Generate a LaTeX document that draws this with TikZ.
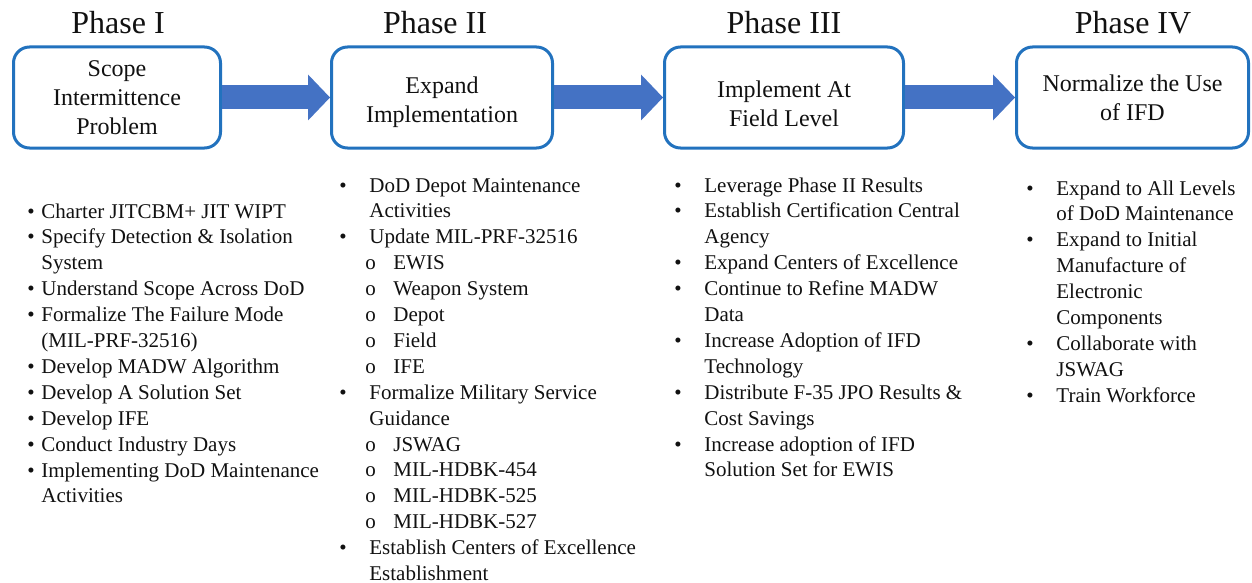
\documentclass[tikz,border=0pt]{standalone}
\usepackage{fontspec}
\setmainfont{Liberation Serif}
\usetikzlibrary{arrows.meta}
\definecolor{Ink}{HTML}{111111}
\definecolor{BoxBlue}{HTML}{2272BE}
\definecolor{ArrowBlue}{HTML}{4472C4}
\newlength\bulgap
\setlength\bulgap{15pt}
\newcommand{\itm}{\makebox[\bulgap][l]{\textbullet}}
\newcommand{\cnt}{\hspace*{\bulgap}}
\newcommand{\subitm}{\hspace*{13pt}\makebox[14pt][l]{o}}
\newcommand{\toppad}[1]{\rule{0pt}{#1}}
\tikzset{
  phasebox/.style={draw=BoxBlue,line width=1.5pt,rounded corners=8pt,fill=white,text=Ink,align=center,minimum height=50.5pt,inner sep=2pt,font=\fontsize{12}{14.5}\selectfont},
  phasetitle/.style={text=Ink,inner sep=0pt,font=\fontsize{16}{18}\selectfont},
  steplist/.style={text=Ink,anchor=base west,inner sep=0pt,font=\fontsize{10.5}{12.95}\selectfont},
  flowarrow/.style={draw=ArrowBlue,line width=12pt,-{Triangle[length=11pt,width=23pt,line width=0pt]}}
}

\begin{document}
\begin{tikzpicture}[x=0.5pt,y=-0.5pt]
\useasboundingbox (0,0) rectangle (1252,583);
% phase titles
\node[phasetitle] (t1) at (118,23) {Phase I};
\node[phasetitle] (t2) at (435,23) {Phase II};
\node[phasetitle] (t3) at (784,23) {Phase III};
\node[phasetitle] (t4) at (1133,23) {Phase IV};
% phase boxes
\node[phasebox,minimum width=103.5pt] (p1) at (117,97.5) {Scope\\Intermittence\\Problem};
\node[phasebox,minimum width=110.5pt] (p2) at (442,97.5) {\toppad{12.8pt}Expand\\Implementation};
\node[phasebox,minimum width=119.5pt] (p3) at (784,97.5) {\toppad{14.3pt}Implement At\\Field Level};
\node[phasebox,minimum width=116pt] (p4) at (1132.5,97.5) {Normalize the Use\\of IFD};
\foreach \a/\b in {p1/p2,p2/p3,p3/p4}
  \draw[flowarrow] (\a.east) -- (\b.west);
% task lists
\node[steplist] (l1) at (27,218) {\setlength\bulgap{7pt}\begin{tabular}[t]{@{}l@{}}
  \itm Charter JITCBM+ JIT WIPT\\
  \itm Specify Detection \& Isolation\\
  \cnt System\\
  \itm Understand Scope Across DoD\\
  \itm Formalize The Failure Mode\\
  \cnt (MIL-PRF-32516)\\
  \itm Develop MADW Algorithm\\
  \itm Develop A Solution Set\\
  \itm Develop IFE\\
  \itm Conduct Industry Days\\
  \itm Implementing DoD Maintenance\\
  \cnt Activities
\end{tabular}};
\node[steplist] (l2) at (339,192) {\begin{tabular}[t]{@{}l@{}}
  \itm DoD Depot Maintenance\\
  \cnt Activities\\
  \itm Update MIL-PRF-32516\\
  \subitm EWIS\\
  \subitm Weapon System\\
  \subitm Depot\\
  \subitm Field\\
  \subitm IFE\\
  \itm Formalize Military Service\\
  \cnt Guidance\\
  \subitm JSWAG\\
  \subitm MIL-HDBK-454\\
  \subitm MIL-HDBK-525\\
  \subitm MIL-HDBK-527\\
  \itm Establish Centers of Excellence\\
  \cnt Establishment
\end{tabular}};
\node[steplist] (l3) at (674,192) {\begin{tabular}[t]{@{}l@{}}
  \itm Leverage Phase II Results\\
  \itm Establish Certification Central\\
  \cnt Agency\\
  \itm Expand Centers of Excellence\\
  \itm Continue to Refine MADW\\
  \cnt Data\\
  \itm Increase Adoption of IFD\\
  \cnt Technology\\
  \itm Distribute F-35 JPO Results \&\\
  \cnt Cost Savings\\
  \itm Increase adoption of IFD\\
  \cnt Solution Set for EWIS
\end{tabular}};
\node[steplist] (l4) at (1026,195) {\begin{tabular}[t]{@{}l@{}}
  \itm Expand to All Levels\\
  \cnt of DoD Maintenance\\
  \itm Expand to Initial\\
  \cnt Manufacture of\\
  \cnt Electronic\\
  \cnt Components\\
  \itm Collaborate with\\
  \cnt JSWAG\\
  \itm Train Workforce
\end{tabular}};
\end{tikzpicture}
\end{document}
